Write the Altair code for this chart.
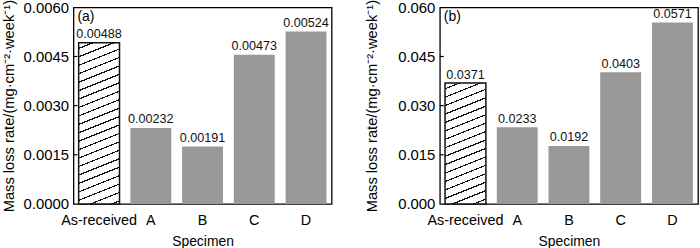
import altair as alt
import pandas as pd

# ---------------- data ----------------
specimens = ["As-received", "A", "B", "C", "D"]

rate_a = [0.00492, 0.00232, 0.00175, 0.00455, 0.00526]
labels_a = ["0.00488", "0.00232", "0.00191", "0.00473", "0.00524"]
ticks_a = [0.0, 0.0015, 0.0030, 0.0045, 0.0060]

rate_b = [0.0369, 0.0234, 0.0177, 0.0402, 0.0554]
labels_b = ["0.0371", "0.0233", "0.0192", "0.0403", "0.0571"]
ticks_b = [0.0, 0.015, 0.030, 0.045, 0.060]

FONT = "Liberation Sans"
PW, PH = 260, 198
P_IN, P_OUT = 0.21, 0.1
Y_TITLE = "Mass loss rate/(mg\u00b7cm\u207b\u00b2\u00b7week\u207b\u00b9)"


def hatch_fill(bar_w, bar_h, slope=0.4, gap=8.5, lw=1.3):
    """Linear-gradient with hard stops that draws '/' hatching on a bar."""
    a = slope * bar_w / (slope * bar_w + bar_h)
    b = bar_h / (slope * bar_w + bar_h)
    n2 = a * a + b * b
    beta = 1.0 / (slope * bar_w + bar_h)
    period = gap * beta
    thick = lw * beta
    stops = [{"offset": 0.0, "color": "white"}]
    t = period * 0.6
    while t < 1.0:
        t1 = min(t + thick, 1.0)
        stops += [
            {"offset": round(t, 5), "color": "white"},
            {"offset": round(t, 5), "color": "#111111"},
            {"offset": round(t1, 5), "color": "#111111"},
            {"offset": round(t1, 5), "color": "white"},
        ]
        t += period
    stops.append({"offset": 1.0, "color": "white"})
    return {"gradient": "linear", "x1": 0, "y1": 0,
            "x2": round(a / n2, 5), "y2": round(b / n2, 5), "stops": stops}


def panel(values, labels, ticks, fmt, tag, title_x):
    ymax = ticks[-1]
    df = pd.DataFrame({"specimen": specimens, "rate": values, "label": labels})
    step = PW / (len(specimens) - P_IN + 2 * P_OUT)
    bar_w = step * (1 - P_IN)
    bar_h = values[0] / ymax * PH

    x = alt.X("specimen:N", sort=specimens,
              scale=alt.Scale(paddingInner=P_IN, paddingOuter=P_OUT),
              axis=alt.Axis(title="Specimen", labelAngle=0, ticks=False, domain=False,
                            labelFontSize=14.5, labelPadding=9.5, labelColor="black",
                            titleFontSize=14, titleFontWeight="normal", titleColor="black",
                            titlePadding=8))
    y = alt.Y("rate:Q", scale=alt.Scale(domain=[0, ymax], nice=False),
              axis=alt.Axis(title=Y_TITLE, values=ticks, format=fmt, grid=False,
                            ticks=False, domain=False, labelFontSize=15,
                            labelPadding=5, labelColor="black",
                            titleFontSize=14.8, titleFontWeight="normal",
                            titleColor="black", titleX=title_x, titleY=PH / 2,
                            titleBaseline="bottom"))

    base = alt.Chart(df).encode(x=x, y=y)
    gray = base.transform_filter(alt.datum.specimen != "As-received").mark_bar(
        color="#999999")
    hatched = base.transform_filter(alt.datum.specimen == "As-received").mark_bar(
        fill=hatch_fill(bar_w, bar_h), stroke="#111111", strokeWidth=1.5)
    text = base.mark_text(baseline="alphabetic", dy=-4.5, fontSize=12.7,
                          color="#111111").encode(text="label:N")
    tick_df = pd.DataFrame({"rate": ticks[1:-1]})
    tick_marks = alt.Chart(tick_df).mark_rule(color="black", strokeWidth=1.2).encode(
        y=y, x=alt.value(0), x2=alt.value(4))
    tag_df = pd.DataFrame({"tag": [tag]})
    tag_text = alt.Chart(tag_df).mark_text(align="left", baseline="middle",
                                           fontSize=14, color="black").encode(
        x=alt.value(4), y=alt.value(10), text="tag:N")
    return alt.layer(gray, hatched, text, tick_marks, tag_text).properties(
        width=PW, height=PH)


left = panel(rate_a, labels_a, ticks_a, ".4f", "(a)", -57.5)
right = panel(rate_b, labels_b, ticks_b, ".3f", "(b)", -61)

chart = alt.hconcat(left, right, spacing=31).properties(
    padding={"left": 0, "top": -2.5, "right": 1, "bottom": 0}
).configure(font=FONT).configure_view(stroke="black", strokeWidth=1.3).configure_text(
    font=FONT)

chart.save("out.html", embed_options={"renderer": "svg", "actions": False})
